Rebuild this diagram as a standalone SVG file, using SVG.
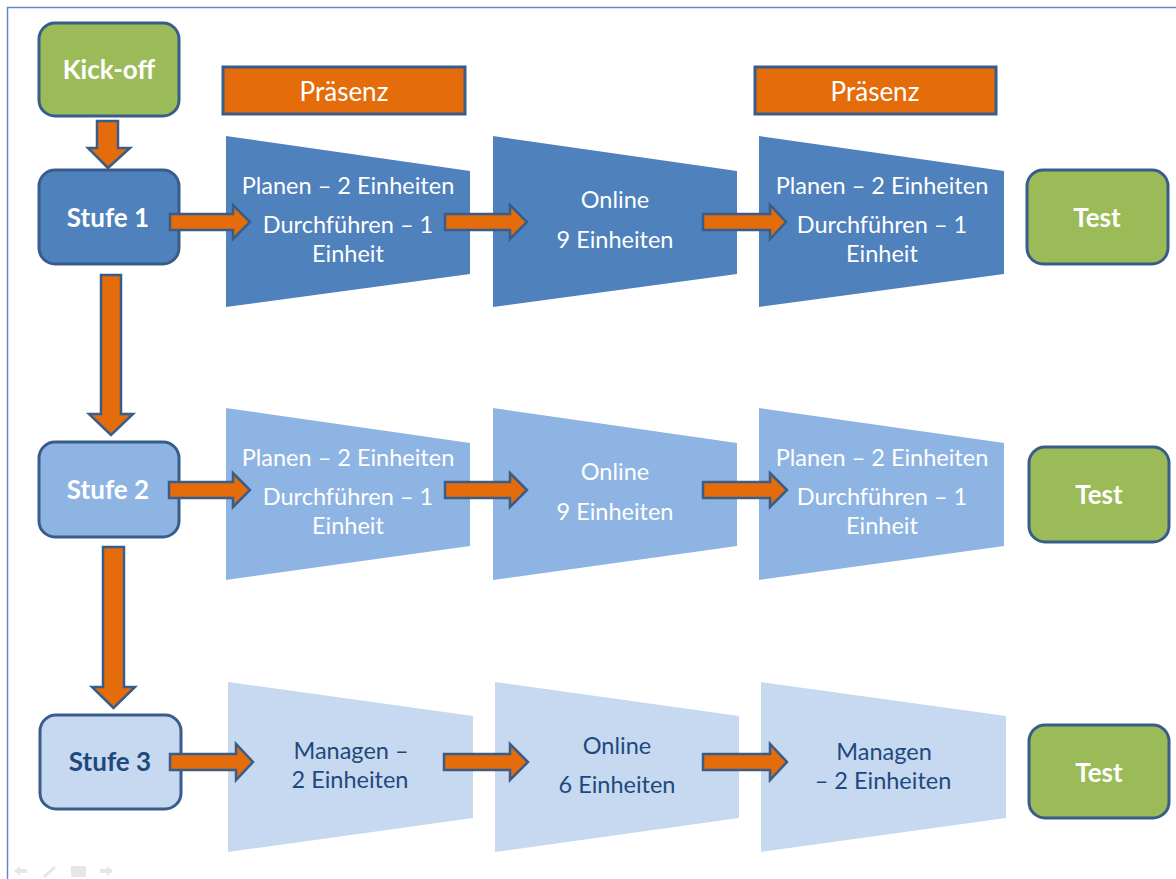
<svg xmlns="http://www.w3.org/2000/svg" width="1176" height="879" viewBox="0 0 1176 879">
<style>
.bx{stroke:#385D8A;stroke-width:3}
.arr{fill:#E46C0A;stroke:#385D8A;stroke-width:2.5;stroke-linejoin:miter}
.t{font-family:Lato,"Liberation Sans",sans-serif;font-size:23.5px;text-anchor:middle}
.p{font-family:Lato,"Liberation Sans",sans-serif;font-size:26px;text-anchor:middle}
.b{font-family:Lato,"Liberation Sans",sans-serif;font-size:26px;font-weight:bold;text-anchor:middle}
.w{fill:#FFFFFF}
.d{fill:#1F497D}
.c1{fill:#4F81BD}
.c2{fill:#8EB4E3}
.c3{fill:#C6D9F1}
.g{fill:#9BBB59}
.o{fill:#E46C0A}
</style>
<rect width="1176" height="879" fill="#FFFFFF"/>
<path d="M7.5 879 V7.5 H1176" fill="none" stroke="#5B8AC6" stroke-width="1.5"/>

<g id="kickoff"><rect class="bx g" x="39" y="23" width="140" height="93" rx="16"/><text class="b w" x="109" y="79">Kick-off</text></g>
<g id="praesenz1"><rect class="bx o" x="223" y="67" width="242" height="47"/><text class="p w" x="344" y="101">Präsenz</text></g>
<g id="praesenz2"><rect class="bx o" x="755" y="67" width="241" height="47"/><text class="p w" x="875" y="101">Präsenz</text></g>

<g id="stufe1"><rect class="bx c1" x="39" y="170" width="140" height="94" rx="16"/><text class="b w" x="108" y="227">Stufe 1</text></g>
<g id="r1a"><polygon class="c1" points="226,136 470,171 470,274 226,307"/><text class="t w" x="348" y="194">Planen – 2 Einheiten</text><text class="t w" x="348" y="233">Durchführen – 1</text><text class="t w" x="348" y="262">Einheit</text></g>
<g id="r1b"><polygon class="c1" points="493,136 737,171 737,274 493,307"/><text class="t w" x="615" y="208">Online</text><text class="t w" x="615" y="248">9 Einheiten</text></g>
<g id="r1c"><polygon class="c1" points="759,136 1004,171 1004,274 759,307"/><text class="t w" x="882" y="194">Planen – 2 Einheiten</text><text class="t w" x="882" y="233">Durchführen – 1</text><text class="t w" x="882" y="262">Einheit</text></g>
<g id="test1"><rect class="bx g" x="1027" y="170" width="141" height="94" rx="16"/><text class="b w" x="1097" y="227">Test</text></g>

<g id="stufe2"><rect class="bx c2" x="39" y="442" width="140" height="95" rx="16"/><text class="b w" x="108" y="499">Stufe 2</text></g>
<g id="r2a"><polygon class="c2" points="226,408 470,443 470,546 226,580"/><text class="t w" x="348" y="466">Planen – 2 Einheiten</text><text class="t w" x="348" y="505">Durchführen – 1</text><text class="t w" x="348" y="534">Einheit</text></g>
<g id="r2b"><polygon class="c2" points="493,408 737,443 737,546 493,580"/><text class="t w" x="615" y="480">Online</text><text class="t w" x="615" y="520">9 Einheiten</text></g>
<g id="r2c"><polygon class="c2" points="759,408 1004,443 1004,546 759,580"/><text class="t w" x="882" y="466">Planen – 2 Einheiten</text><text class="t w" x="882" y="505">Durchführen – 1</text><text class="t w" x="882" y="534">Einheit</text></g>
<g id="test2"><rect class="bx g" x="1029" y="447" width="140" height="95" rx="16"/><text class="b w" x="1099" y="504">Test</text></g>

<g id="stufe3"><rect class="bx c3" x="40" y="715" width="141" height="94" rx="16"/><text class="b d" x="110" y="771">Stufe 3</text></g>
<g id="r3a"><polygon class="c3" points="228,682 473,716 473,818 228,852"/><text class="t d" x="351" y="759">Managen –</text><text class="t d" x="350" y="788">2 Einheiten</text></g>
<g id="r3b"><polygon class="c3" points="495,682 739,716 739,818 495,852"/><text class="t d" x="617" y="754">Online</text><text class="t d" x="617" y="793">6 Einheiten</text></g>
<g id="r3c"><polygon class="c3" points="761,682 1006,716 1006,818 761,852"/><text class="t d" x="884" y="760">Managen</text><text class="t d" x="883" y="789">– 2 Einheiten</text></g>
<g id="test3"><rect class="bx g" x="1029" y="725" width="140" height="93" rx="16"/><text class="b w" x="1099" y="782">Test</text></g>

<g id="connectors">
<path class="arr" d="M97 121 H118 V148 H130 L108 168 L88 148 H97 Z"/>
<path class="arr" d="M101 275 H121 V414 H133 L111 435 L89 414 H101 Z"/>
<path class="arr" d="M103 547 H124 V687 H135 L113.5 708 L92 687 H103 Z"/>
<path class="arr" d="M170 214 H233 V205 L250 222 L233 239 V230 H170 Z"/>
<path class="arr" d="M445 214 H510 V205 L527 222 L510 239 V230 H445 Z"/>
<path class="arr" d="M703 214 H770 V205 L786 222 L770 239 V230 H703 Z"/>
<path class="arr" d="M169 482 H233 V473 L250 490 L233 507 V498 H169 Z"/>
<path class="arr" d="M445 482 H510 V473 L527 490 L510 507 V498 H445 Z"/>
<path class="arr" d="M703 482 H770 V473 L787 490 L770 507 V498 H703 Z"/>
<path class="arr" d="M170 754 H236 V744 L253 762 L236 780 V770 H170 Z"/>
<path class="arr" d="M444 754 H510 V744 L528 762 L510 780 V770 H444 Z"/>
<path class="arr" d="M703 754 H770 V744 L787 762 L770 780 V770 H703 Z"/>
</g>

<g id="nav" fill="#E6E6E6">
<path d="M14 871 L20 866 V869 H27 V873 H20 V876 Z"/>
<path d="M43 876 L54 866 L56 868 L45 878 Z"/>
<rect x="71" y="866" width="15" height="11" rx="1"/>
<path d="M113 871 L107 866 V869 H100 V873 H107 V876 Z"/>
</g>
</svg>
